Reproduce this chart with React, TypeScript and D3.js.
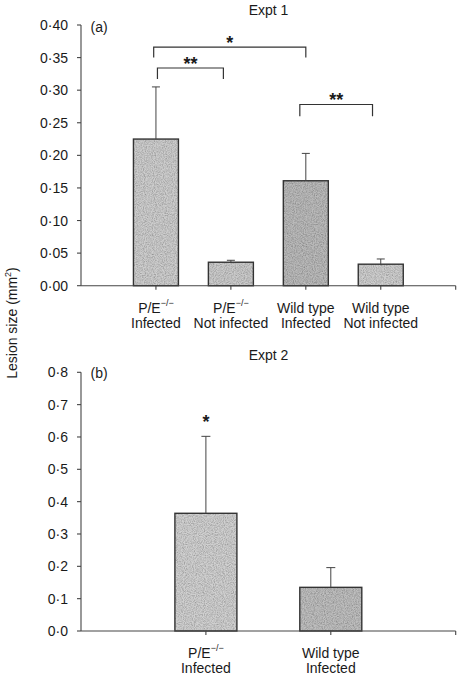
import React from "react";
import * as d3 from "d3";

// ---------- Data ----------
const expt1Categories = ["P/E infected", "P/E not infected", "WT infected", "WT not infected"];
const expt1Values = [0.225, 0.036, 0.161, 0.033];
const expt1ErrTop = [0.305, 0.039, 0.203, 0.041];
const expt1Fills = ["#cdcdcd", "#cbcbcb", "#bababa", "#cecece"];
const expt1Ticks = [0, 0.05, 0.1, 0.15, 0.2, 0.25, 0.3, 0.35, 0.4];
const expt1Line1 = [["P/E", "−/−"], ["P/E", "−/−"], ["Wild type", ""], ["Wild type", ""]];
const expt1Line2 = ["Infected", "Not infected", "Infected", "Not infected"];
// brackets: [from position, to position, top level, bottom level, label]
const expt1Brackets: [number, number, number, number, string][] = [
  [1.02, 1.9, 0.334, 0.317, "**"],
  [0.97, 3.0, 0.366, 0.35, "*"],
  [2.92, 3.89, 0.278, 0.26, "**"],
];

const expt2Categories = ["P/E infected", "WT infected"];
const expt2Values = [0.364, 0.135];
const expt2ErrTop = [0.602, 0.196];
const expt2Fills = ["#d0d0d0", "#bebebe"];
const expt2Ticks = [0, 0.1, 0.2, 0.3, 0.4, 0.5, 0.6, 0.7, 0.8];
const expt2Line1 = [["P/E", "−/−"], ["Wild type", ""]];
const expt2Line2 = ["Infected", "Infected"];
const expt2Stars = ["*", ""];

const FONT = "'Liberation Sans', Arial, Helvetica, sans-serif";
const INK = "#1a1a1a";

type PanelProps = {
  values: number[];
  errTop: number[];
  fills: string[];
  ticks: number[];
  fmt: (v: number) => string;
  line1: string[][];
  line2: string[];
  yMax: number;
  yRange: [number, number];
  barWidth: number;
  capHalf: number;
  title: string;
  titleY: number;
  tag: string;
  tagY: number;
  labelY1: number;
  brackets?: [number, number, number, number, string][];
  stars?: string[];
};

function Panel(p: PanelProps) {
  const n = p.values.length;
  const x = d3.scaleLinear().domain([0, n + 1]).range([81, 455.7]);
  const y = d3.scaleLinear().domain([0, p.yMax]).range(p.yRange);
  const idx = d3.range(n);
  const xTicks = d3.range(1, n + 2);
  return (
    <g>
      <text x={268.5} y={p.titleY} fontSize={14} fontFamily={FONT} fill={INK} textAnchor="middle">
        {p.title}
      </text>
      <text x={90.5} y={p.tagY} fontSize={14} fontFamily={FONT} fill={INK}>
        {p.tag}
      </text>
      {/* bars */}
      {idx.map((i) => {
        const cx = x(i + 1);
        const top = y(p.values[i]);
        const h = y(0) - top;
        return (
          <g key={i}>
            <rect x={cx - p.barWidth / 2} y={top} width={p.barWidth} height={h} fill={p.fills[i]} filter="url(#grain)" />
            <rect x={cx - p.barWidth / 2} y={top} width={p.barWidth} height={h} fill="none" stroke="#333" strokeWidth={1.4} />
            <line x1={cx} x2={cx} y1={top} y2={y(p.errTop[i])} stroke="#444" strokeWidth={1} />
            <line x1={cx - p.capHalf} x2={cx + p.capHalf} y1={y(p.errTop[i])} y2={y(p.errTop[i])} stroke="#444" strokeWidth={1} />
            {p.stars && p.stars[i] ? (
              <text x={cx} y={y(p.errTop[i]) - 8} fontSize={18} fontWeight="bold" fontFamily={FONT} fill={INK} textAnchor="middle">
                {p.stars[i]}
              </text>
            ) : null}
          </g>
        );
      })}
      {/* brackets */}
      {(p.brackets || []).map((b, k) => {
        const x1 = x(b[0]);
        const x2 = x(b[1]);
        const yt = y(b[2]);
        const yb = y(b[3]);
        return (
          <g key={"b" + k}>
            <path d={`M${x1},${yb}V${yt}H${x2}V${yb}`} fill="none" stroke="#333" strokeWidth={1.2} />
            <text x={(x1 + x2) / 2} y={yt + 1.5} fontSize={18} fontWeight="bold" fontFamily={FONT} fill={INK} textAnchor="middle">
              {b[4]}
            </text>
          </g>
        );
      })}
      {/* y axis */}
      <line x1={81} x2={81} y1={y(p.yMax)} y2={y(0)} stroke="#444" strokeWidth={1.1} />
      {p.ticks.map((t) => (
        <g key={"t" + t}>
          <line x1={77} x2={81} y1={y(t)} y2={y(t)} stroke="#444" strokeWidth={1.1} />
          <text x={68} y={y(t) + 5} fontSize={14} fontFamily={FONT} fill={INK} textAnchor="end">
            {p.fmt(t)}
          </text>
        </g>
      ))}
      {/* x axis */}
      <line x1={81} x2={455.7} y1={y(0)} y2={y(0)} stroke="#444" strokeWidth={1.1} />
      {xTicks.map((t) => (
        <line key={"x" + t} x1={x(t)} x2={x(t)} y1={y(0)} y2={y(0) + 4} stroke="#444" strokeWidth={1.1} />
      ))}
      {/* category labels */}
      {idx.map((i) => (
        <g key={"l" + i}>
          <text x={x(i + 1)} y={p.labelY1} fontSize={14} fontFamily={FONT} fill={INK} textAnchor="middle">
            {p.line1[i][0]}
            {p.line1[i][1] ? (
              <tspan fontSize={9} dy={-7}>
                {p.line1[i][1]}
              </tspan>
            ) : null}
          </text>
          <text x={x(i + 1)} y={p.labelY1 + 15} fontSize={14} fontFamily={FONT} fill={INK} textAnchor="middle">
            {p.line2[i]}
          </text>
        </g>
      ))}
    </g>
  );
}

export default function App() {
  const fmt2 = (v: number) => d3.format(".2f")(v).replace(".", "·");
  const fmt1 = (v: number) => d3.format(".1f")(v).replace(".", "·");
  return (
    <svg width={458} height={681} style={{ position: "absolute", left: 0, top: 0, background: "#fff" }}>
      <defs>
        <filter id="grain" x="0" y="0" width="1" height="1">
          <feTurbulence type="fractalNoise" baseFrequency="0.9" numOctaves={2} seed={4} result="noise" />
          <feColorMatrix in="noise" type="matrix" values="0 0 0 0 0  0 0 0 0 0  0 0 0 0 0  0.9 0 0 0 -0.3" result="dark" />
          <feComposite in="dark" in2="SourceGraphic" operator="in" result="darkIn" />
          <feMerge>
            <feMergeNode in="SourceGraphic" />
            <feMergeNode in="darkIn" />
          </feMerge>
        </filter>
      </defs>
      <rect x={0} y={0} width={458} height={681} fill="#fff" />
      <text transform="translate(17,323) rotate(-90)" fontSize={14} fontFamily={FONT} fill={INK} textAnchor="middle">
        Lesion size (mm
        <tspan fontSize={9} dy={-6}>2</tspan>
        <tspan dy={6}>)</tspan>
      </text>
      <Panel
        values={expt1Values}
        errTop={expt1ErrTop}
        fills={expt1Fills}
        ticks={expt1Ticks}
        fmt={fmt2}
        line1={expt1Line1}
        line2={expt1Line2}
        yMax={0.4}
        yRange={[285.7, 25]}
        barWidth={45}
        capHalf={4}
        title="Expt 1"
        titleY={14.5}
        tag="(a)"
        tagY={31.5}
        labelY1={313.3}
        brackets={expt1Brackets}
      />
      <Panel
        values={expt2Values}
        errTop={expt2ErrTop}
        fills={expt2Fills}
        ticks={expt2Ticks}
        fmt={fmt1}
        line1={expt2Line1}
        line2={expt2Line2}
        yMax={0.8}
        yRange={[631, 372.3]}
        barWidth={62}
        capHalf={4.5}
        title="Expt 2"
        titleY={360}
        tag="(b)"
        tagY={377.7}
        labelY1={658}
        stars={expt2Stars}
      />
    </svg>
  );
}
